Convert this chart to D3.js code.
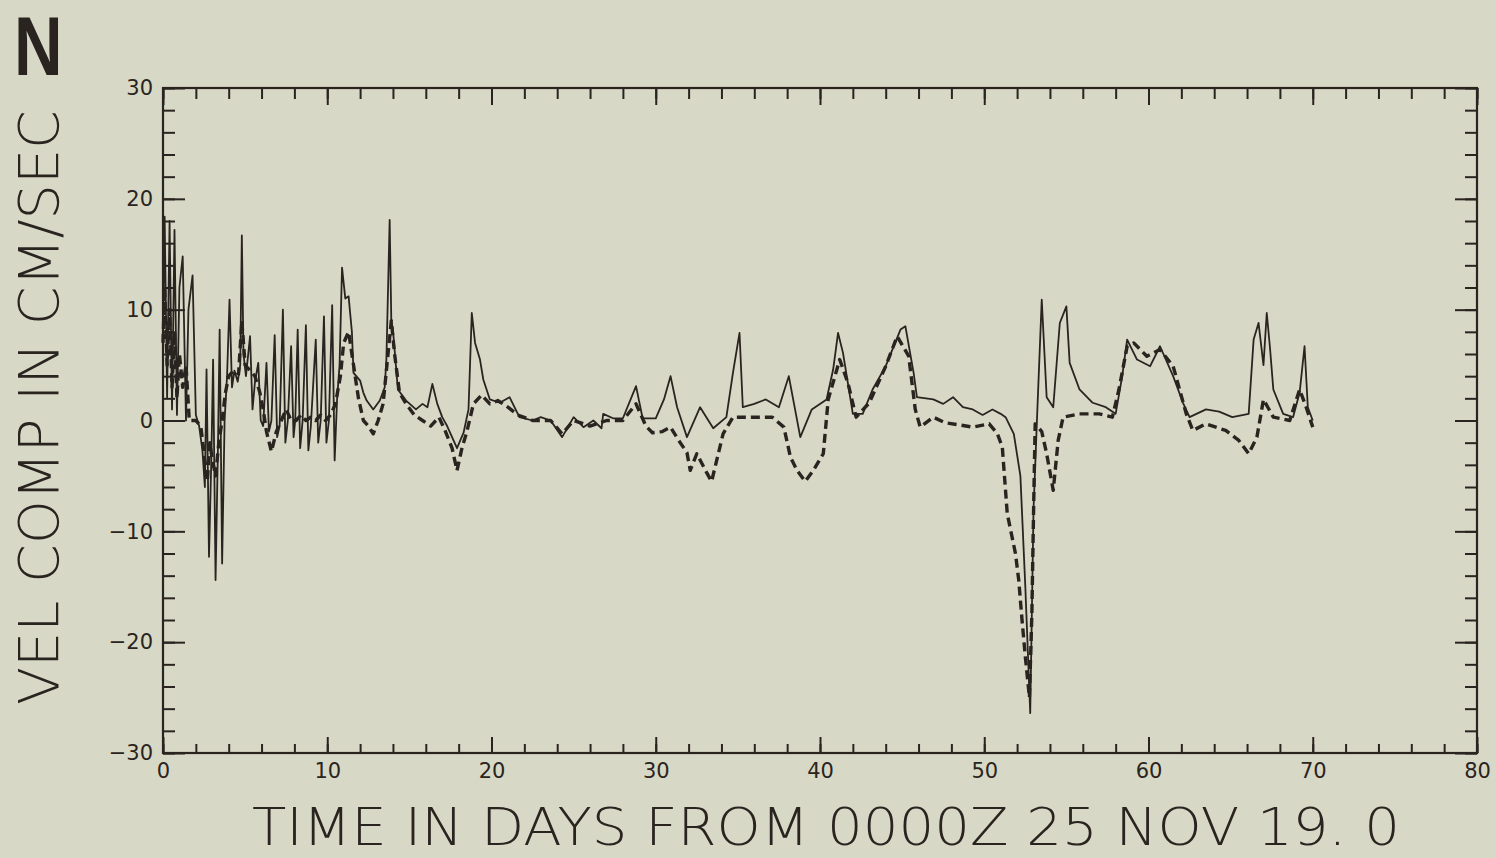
<!DOCTYPE html>
<html>
<head>
<meta charset="utf-8">
<script src="https://cdn.jsdelivr.net/npm/d3@7"></script>
<style>
  html, body { margin: 0; padding: 0; background: #d8d8c6; }
  svg { display: block; }
  text { font-family: "DejaVu Sans", sans-serif; fill: #2a2420; }
</style>
</head>
<body>
<svg id="chart" width="1496" height="858"></svg>
<script>
// Velocity component (cm/s) against time in days, two records.
const xTicks = [0, 10, 20, 30, 40, 50, 60, 70, 80];
const yTicks = [-30, -20, -10, 0, 10, 20, 30];
const xMinorTicks = d3.range(0, 81, 2);
const yMinorTicks = d3.range(-30, 31, 2);

const yTitle = "VEL COMP IN CM/SEC";
const xTitle = "TIME  IN  DAYS  FROM  0000Z  25  NOV  19. 0";
const panelLetter = "N";

// [day, cm/s] — thin solid record
const solidSeries = [
  [0,8],[0.1,18.4],[0.25,2],[0.4,18],[0.55,1],[0.7,17.2],[0.85,0.5],[1.0,12],[1.2,14.8],[1.4,0],
  [1.55,10],[1.8,13.1],[2.0,0.5],[2.2,-0.5],[2.4,-2.7],[2.55,-6],[2.65,4.6],[2.8,-12.3],[2.95,-3],
  [3.05,5.5],[3.2,-14.4],[3.35,-2],[3.45,8.2],[3.6,-12.9],[3.75,0],[3.9,4],[4.05,10.9],[4.2,3],
  [4.35,4.5],[4.55,3.5],[4.7,5],[4.8,16.7],[4.9,6],[5.05,4],[5.3,7.6],[5.45,1],[5.6,3.5],[5.8,5.2],
  [5.95,0],[6.1,-0.5],[6.3,5.2],[6.45,-1],[6.6,0],[6.8,7.7],[6.95,-1.5],[7.1,-0.5],[7.3,10.0],
  [7.45,-2],[7.6,0],[7.8,6.7],[7.95,-1.5],[8.05,0],[8.2,8.2],[8.35,-2.5],[8.5,0],[8.7,8.6],[8.85,-2.7],
  [9.0,-0.5],[9.3,7.3],[9.45,-2],[9.6,0],[9.8,9.4],[9.95,-2],[10.1,0],[10.3,10.4],[10.45,-3.6],
  [10.6,2],[10.75,5],[10.9,13.8],[11.1,11],[11.3,11.2],[11.5,8],[11.6,4.3],[12.0,3.6],[12.2,2.5],
  [12.4,1.8],[12.8,1.0],[13.2,1.8],[13.5,3],[13.6,5.5],[13.8,18.1],[13.9,9],[14.0,8.2],[14.3,2.8],
  [14.8,1.8],[15.4,1.0],[15.8,1.5],[16.1,1.2],[16.4,3.3],[16.7,1.5],[17.0,0.3],[17.3,-0.5],[17.6,-1.5],
  [17.9,-2.5],[18.3,-1.1],[18.6,1],[18.8,9.7],[19.0,7],[19.3,5.5],[19.5,3.7],[19.9,1.9],[20.5,1.6],
  [21.1,2.1],[21.7,0.3],[22.5,0],[23.0,0.3],[23.6,0],[24.3,-1.5],[25.0,0.3],[25.6,-0.6],[26.2,0],
  [26.7,-0.7],[26.8,0.6],[27.4,0.2],[28.0,0.2],[28.8,3.1],[29.2,0.2],[30.0,0.2],[30.5,1.9],[30.9,4.0],
  [31.3,1.2],[31.9,-1.5],[32.7,1.2],[33.5,-0.7],[34.3,0.3],[34.7,4.3],[35.1,7.9],[35.3,1.2],[36.0,1.5],
  [36.7,1.9],[37.5,1.2],[38.1,4],[38.8,-1.5],[39.5,1],[40.4,1.9],[40.8,4.6],[41.1,7.9],[41.4,6.1],
  [42,0.6],[42.6,0.6],[43.2,2.8],[44,4.9],[44.9,8.2],[45.2,8.5],[45.7,4.3],[45.9,2.1],[46.9,1.9],
  [47.5,1.5],[48.1,2.1],[48.7,1.2],[49.3,1],[49.9,0.5],[50.5,1],[51,0.6],[51.3,0.3],[51.8,-1.2],
  [52.2,-5],[52.5,-15],[52.8,-26.4],[53.0,-8],[53.2,-0.3],[53.5,10.9],[53.8,2.1],[54.2,1.2],[54.6,8.8],
  [55,10.3],[55.2,5.2],[55.8,2.8],[56.6,1.6],[57.4,1.2],[58,0.6],[58.4,4],[58.7,7.3],[59.3,5.5],
  [60.1,4.9],[60.7,6.7],[61.5,4],[62.1,1.6],[62.5,0.3],[63.5,1],[64.3,0.8],[65.1,0.3],[66.1,0.6],
  [66.4,7.3],[66.7,8.8],[67.0,5],[67.2,9.7],[67.4,6.5],[67.6,2.8],[68.2,0.6],[68.8,0.3],[69.2,2.5],
  [69.5,6.7],[69.7,1.2],[70,0]
];

// [day, cm/s] — heavy dashed record
const dashedSeries = [
  [0,7],[0.1,12],[0.25,5],[0.4,10],[0.55,3],[0.7,8],[0.85,2],[1.0,6],[1.2,3],[1.4,5],[1.6,0],[2.0,0],
  [2.3,-0.5],[2.5,-3],[2.7,-5.5],[2.85,-2],[3.0,-3.5],[3.2,-5],[3.4,-2],[3.6,0],[3.8,2.5],[4.0,4],
  [4.3,4.5],[4.6,4.2],[4.8,9],[5.0,5],[5.3,4.5],[5.6,4],[5.9,2.5],[6.1,1],[6.3,-1],[6.6,-2.8],[6.9,-1],
  [7.2,0],[7.5,1],[7.8,0],[8.1,0],[8.4,0.5],[8.7,0],[9.0,0.3],[9.3,0],[9.6,0.5],[9.9,0],[10.2,0.5],
  [10.5,1.5],[10.8,4],[11.0,7],[11.3,8],[11.6,5],[11.9,2],[12.2,0],[12.5,-0.5],[12.8,-1.2],[13.1,0],
  [13.4,1.5],[13.7,6],[13.9,9],[14.1,6],[14.4,2.5],[14.8,1.5],[15.3,0.5],[15.8,0],[16.3,-0.5],[16.8,0.3],
  [17.2,-1],[17.6,-2.5],[17.9,-4.5],[18.2,-2.5],[18.5,-1],[18.9,1.5],[19.4,2.3],[19.9,1.5],[20.4,1.8],
  [21.0,1.2],[21.6,0.5],[22.5,0],[23.6,0],[24.3,-1.2],[25.0,0],[26,-0.5],[27,0],[28,0],[28.8,1.5],
  [29.4,-0.5],[29.8,-1.1],[30.4,-1],[30.9,-0.6],[31.4,-1.8],[31.9,-2.9],[32.1,-4.5],[32.5,-3],[33.1,-4.7],
  [33.4,-5.5],[34.1,-1.2],[34.7,0.3],[35.7,0.3],[37.1,0.3],[37.8,-0.6],[38.2,-3.3],[38.6,-4.5],[39.1,-5.5],
  [39.6,-4.5],[40.2,-3],[40.5,1.9],[41.2,5.5],[41.7,3.4],[42.2,0.3],[43,1.6],[44,4.9],[44.7,7.6],
  [45.4,5.8],[45.8,1],[46.1,-0.6],[46.9,0.3],[47.6,-0.2],[48.5,-0.4],[49.3,-0.6],[50.3,-0.3],[50.8,-1.2],
  [51.1,-2.4],[51.4,-8.4],[51.9,-12],[52.1,-14.4],[52.3,-18],[52.5,-21.3],[52.75,-25],[52.9,-17.4],
  [53.0,-8.4],[53.1,-0.3],[53.5,-1],[53.8,-3],[54.2,-6.3],[54.5,-1.8],[54.8,0.3],[55.8,0.6],[57,0.6],
  [57.8,0.3],[58.2,2.8],[58.7,6.7],[59.1,7],[59.9,5.8],[60.7,6.4],[61.5,4.9],[62.3,0.6],[62.7,-0.9],
  [63.5,-0.3],[64.7,-0.9],[65.5,-1.8],[66.1,-3],[66.6,-1.5],[67,1.9],[67.6,0.3],[68.6,0],[69.2,2.8],
  [69.6,1.2],[70,-0.6]
];

const ink = "#2a2420";
const svg = d3.select("#chart");
const plot = { left: 163, right: 1477, top: 88, bottom: 753 };

const x = d3.scaleLinear().domain([0, 80]).range([plot.left, plot.right]);
const y = d3.scaleLinear().domain([-30, 30]).range([plot.bottom, plot.top]);

// Frame
svg.append("rect")
  .attr("x", plot.left).attr("y", plot.top)
  .attr("width", plot.right - plot.left).attr("height", plot.bottom - plot.top)
  .attr("fill", "none").attr("stroke", ink).attr("stroke-width", 2.2);

function styleAxis(g) {
  g.select(".domain").remove();
  g.selectAll(".tick line").attr("stroke", ink).attr("stroke-width", 2);
  g.selectAll(".tick text").attr("fill", ink)
    .style("font-family", "'DejaVu Sans', sans-serif").style("font-size", "21px");
}

// Inward ticks on all four sides: minor every 2, major every 10
const sides = [
  { make: () => d3.axisBottom(x), pos: `translate(0,${plot.bottom})`, minor: xMinorTicks, major: xTicks, minLen: -9, majLen: -16, labels: true },
  { make: () => d3.axisTop(x), pos: `translate(0,${plot.top})`, minor: xMinorTicks, major: xTicks, minLen: -11, majLen: -17, labels: false },
  { make: () => d3.axisLeft(y), pos: `translate(${plot.left},0)`, minor: yMinorTicks, major: yTicks, minLen: -12, majLen: -22, labels: true },
  { make: () => d3.axisRight(y), pos: `translate(${plot.right},0)`, minor: yMinorTicks, major: yTicks, minLen: -12, majLen: -22, labels: false }
];

sides.forEach(s => {
  svg.append("g").attr("transform", s.pos)
    .call(s.make().tickValues(s.minor).tickSize(s.minLen).tickFormat(""))
    .call(styleAxis);
  const g = svg.append("g").attr("transform", s.pos)
    .call(s.make().tickValues(s.major).tickSize(s.majLen).tickPadding(s.labels ? 10 : 0)
      .tickFormat(s.labels ? d3.format("d") : ""))
    .call(styleAxis);
  if (!s.labels) g.selectAll(".tick text").remove();
});

// Curves
const line = d3.line().x(d => x(d[0])).y(d => y(d[1]));

svg.append("path").datum(dashedSeries)
  .attr("d", line)
  .attr("fill", "none").attr("stroke", ink)
  .attr("stroke-width", 3.4).attr("stroke-dasharray", "9,5")
  .attr("stroke-linejoin", "round");

svg.append("path").datum(solidSeries)
  .attr("d", line)
  .attr("fill", "none").attr("stroke", ink)
  .attr("stroke-width", 1.8).attr("stroke-linejoin", "round");

// Titles
svg.append("text")
  .attr("transform", "translate(58,110) rotate(-90)")
  .attr("text-anchor", "end")
  .attr("textLength", 595).attr("lengthAdjust", "spacingAndGlyphs")
  .style("font-size", "56px").style("font-weight", "200")
  .text(yTitle);

svg.append("text")
  .attr("x", 252).attr("y", 845)
  .attr("textLength", 1148).attr("lengthAdjust", "spacingAndGlyphs")
  .style("font-size", "52px").style("font-weight", "200")
  .text(xTitle);

svg.append("text")
  .attr("transform", "translate(14,75) scale(0.8,1)")
  .style("font-family", "'Liberation Sans', Arial, sans-serif")
  .style("font-size", "84px").style("font-weight", "bold")
  .text(panelLetter);
</script>
</body>
</html>
